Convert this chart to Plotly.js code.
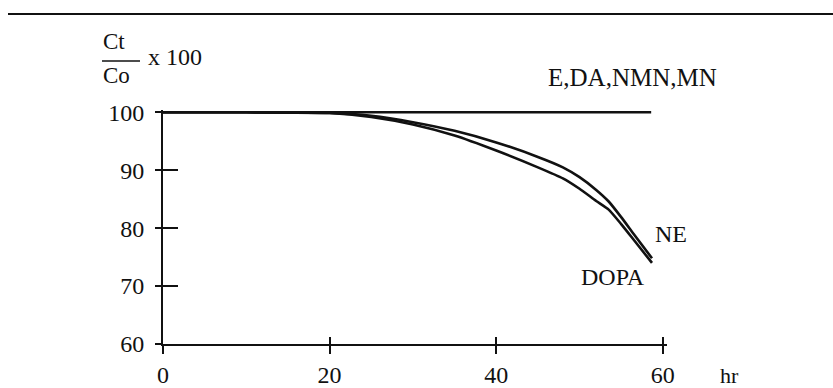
<!DOCTYPE html>
<html>
<head>
<meta charset="utf-8">
<script src="https://cdn.plot.ly/plotly-3.0.1.min.js"></script>
<style>html,body{margin:0;padding:0;background:#fff;}#chart{width:833px;height:388px;}</style>
</head>
<body>
<div id="chart"></div>
<script>
// Data
const hours = [0, 10, 20, 25, 30, 35, 40, 45, 48, 50, 52, 53.5, 55, 56.5, 58.7];
const neValues = [100, 100, 99.9, 99.4, 98.3, 96.8, 94.8, 92.3, 90.5, 88.8, 86.6, 84.6, 81.9, 79.0, 74.8];
const dopaValues = [100, 100, 99.9, 99.2, 97.9, 96.0, 93.4, 90.5, 88.6, 86.8, 84.7, 83.2, 80.7, 78.0, 74.0];
const stableHours = [0, 58.6];
const stableValues = [100, 100];
const seriesNames = ["NE", "DOPA", "E,DA,NMN,MN"];
const xTicks = [0, 20, 40, 60];
const yTicks = [60, 70, 80, 90, 100];

const FONT = "Liberation Serif, Times New Roman, serif";
const INK = "#111";

const lineStyle = {color: INK, width: 2.6, shape: "spline", smoothing: 0.5};

const traces = [
  {x: hours, y: neValues, name: seriesNames[0], mode: "lines", line: lineStyle, xaxis: "x", yaxis: "y"},
  {x: hours, y: dopaValues, name: seriesNames[1], mode: "lines", line: lineStyle, xaxis: "x", yaxis: "y"},
  {x: stableHours, y: stableValues, name: seriesNames[2], mode: "lines", line: {color: INK, width: 2.4}, xaxis: "x2", yaxis: "y2"}
];

const xRange = [0, 60.5];
const yRange = [60, 100.4];

const tickFont = {family: FONT, size: 24, color: INK};

const layout = {
  width: 833, height: 388,
  margin: {l: 163, r: 166, t: 110, b: 44},
  paper_bgcolor: "#fff", plot_bgcolor: "#fff",
  showlegend: false,
  font: {family: FONT, color: INK},
  // primary axes: inside ticks + labels
  xaxis: {
    range: xRange, tickvals: xTicks, ticktext: xTicks.map(String),
    showgrid: false, zeroline: false, showline: true, linecolor: INK, linewidth: 2,
    ticks: "inside", ticklen: 7, tickwidth: 2, tickcolor: INK,
    tickfont: tickFont, ticklabelstandoff: 8, fixedrange: true
  },
  yaxis: {
    range: yRange, tickvals: yTicks, ticktext: yTicks.map(String),
    showgrid: false, zeroline: false, showline: true, linecolor: INK, linewidth: 2,
    ticks: "inside", ticklen: 15, tickwidth: 2, tickcolor: INK,
    tickfont: tickFont, ticklabelstandoff: 12, fixedrange: true
  },
  // overlay axes: outside ticks only
  xaxis2: {
    overlaying: "x", anchor: "y2", range: xRange, tickvals: xTicks,
    showgrid: false, zeroline: false, showline: false, showticklabels: false,
    ticks: "outside", ticklen: 9, tickwidth: 2, tickcolor: INK, fixedrange: true
  },
  yaxis2: {
    overlaying: "y", anchor: "x2", range: yRange, tickvals: yTicks,
    showgrid: false, zeroline: false, showline: false, showticklabels: false,
    ticks: "outside", ticklen: 7, tickwidth: 2, tickcolor: INK, fixedrange: true
  },
  annotations: [
    {text: seriesNames[0], x: 58.8, y: 79.0, xref: "x", yref: "y", xanchor: "left", yanchor: "middle", showarrow: false, font: {family: FONT, size: 24, color: INK}},
    {text: seriesNames[1], x: 58.1, y: 71.6, xref: "x", yref: "y", xanchor: "right", yanchor: "middle", showarrow: false, font: {family: FONT, size: 24, color: INK}},
    {text: seriesNames[2], x: 546, y: 77, xanchor: "left", yanchor: "middle", showarrow: false, font: {family: FONT, size: 25, color: INK}},
    {text: "hr", x: 729, y: 375, xanchor: "center", yanchor: "middle", showarrow: false, font: {family: FONT, size: 22, color: INK}},
    {text: "Ct", x: 101, y: 42, showarrow: false, xanchor: "left", yanchor: "middle", font: {family: FONT, size: 23, color: INK}},
    {text: "Co", x: 101, y: 75, showarrow: false, xanchor: "left", yanchor: "middle", font: {family: FONT, size: 23, color: INK}},
    {text: "x 100", x: 146, y: 57, showarrow: false, xanchor: "left", yanchor: "middle", font: {family: FONT, size: 24, color: INK}}
  ],
  shapes: []
};

// convert pixel positions for the free-standing page elements into paper coordinates
const plotL = 163, plotW = 833 - 163 - 166, plotT = 110, plotH = 388 - 110 - 44;
const px = v => (v - plotL) / plotW;
const py = v => (plotT + plotH - v) / plotH;
layout.annotations.forEach(a => {
  if (a.xref === undefined) {
    a.xref = "paper"; a.yref = "paper";
    a.x = px(a.x); a.y = py(a.y);
  }
});
layout.shapes.push({type: "line", xref: "paper", yref: "paper", x0: px(8), x1: px(833), y0: py(14), y1: py(14), line: {color: INK, width: 2}});
layout.shapes.push({type: "line", xref: "paper", yref: "paper", x0: px(102), x1: px(140), y0: py(61), y1: py(61), line: {color: INK, width: 1.5}});

Plotly.newPlot("chart", traces, layout, {displayModeBar: false, staticPlot: true});
</script>
</body>
</html>
